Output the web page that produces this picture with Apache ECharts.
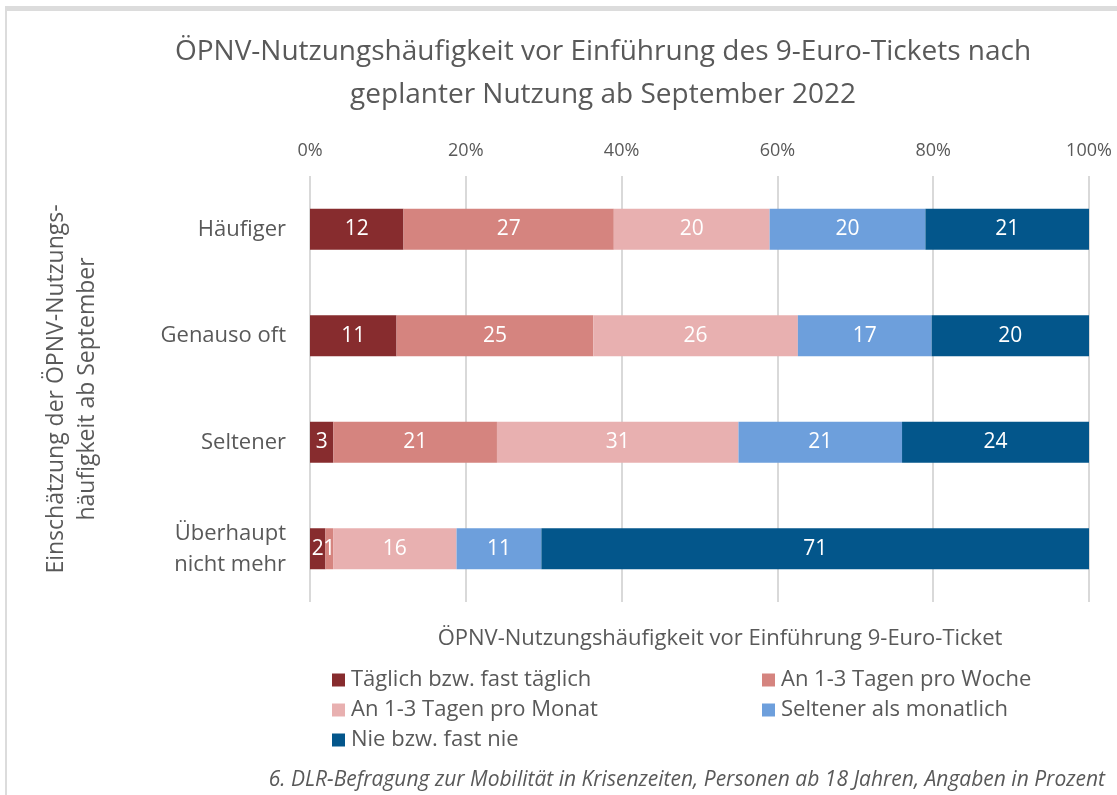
<!DOCTYPE html>
<html>
<head>
<meta charset="utf-8">
<script src="https://cdn.jsdelivr.net/npm/echarts@6/dist/echarts.min.js"></script>
<style>
html, body { margin: 0; padding: 0; background: #fff; }
#chart { width: 1117px; height: 795px; }
</style>
</head>
<body>
<div id="chart"></div>
<script>
var categories = ['Häufiger', 'Genauso oft', 'Seltener', 'Überhaupt\nnicht mehr'];
var seriesNames = ['Täglich bzw. fast täglich', 'An 1-3 Tagen pro Woche', 'An 1-3 Tagen pro Monat', 'Seltener als monatlich', 'Nie bzw. fast nie'];
var taeglich = [12, 11, 3, 2];
var woche = [27, 25, 21, 1];
var monat = [20, 26, 31, 16];
var seltener = [20, 17, 21, 11];
var nie = [21, 20, 24, 71];
var colors = ['#872c2e', '#d5847f', '#e8b0b0', '#6d9fdc', '#03568b'];
var xTicks = ['0%', '20%', '40%', '60%', '80%', '100%'];

var allRows = [taeglich, woche, monat, seltener, nie];
// Zeilensummen fuer 100%-Stapel
var rowSum = categories.map(function (c, i) {
    var s = 0;
    allRows.forEach(function (r) { s += r[i]; });
    return s;
});

var font = '"Open Sans", Lato, sans-serif';
var grey = '#595959';

var myChart = echarts.init(document.getElementById('chart'));

var series = allRows.map(function (row, k) {
    return {
        name: seriesNames[k],
        type: 'bar',
        stack: 'total',
        barWidth: 41,
        itemStyle: { color: colors[k] },
        label: {
            show: true,
            color: '#fff',
            fontSize: 21,
            fontFamily: font,
            formatter: function (p) { return p.data.raw; }
        },
        data: row.map(function (v, i) {
            return { value: v / rowSum[i] * 100, raw: v };
        })
    };
});

option = {
    backgroundColor: '#fff',
    animation: false,
    title: [{
        text: 'ÖPNV-Nutzungshäufigkeit vor Einführung des 9-Euro-Tickets nach\ngeplanter Nutzung ab September 2022',
        left: 598,
        top: 26,
        textAlign: 'center',
        textStyle: { fontFamily: font, fontSize: 28, fontWeight: 'normal', color: grey, lineHeight: 43 }
    }, {
        text: 'ÖPNV-Nutzungshäufigkeit vor Einführung 9-Euro-Ticket',
        left: 715,
        top: 623,
        textAlign: 'center',
        textStyle: { fontFamily: font, fontSize: 22, fontWeight: 'normal', color: grey }
    }, {
        text: '6. DLR-Befragung zur Mobilität in Krisenzeiten, Personen ab 18 Jahren, Angaben in Prozent',
        right: 7,
        top: 765,
        textStyle: { fontFamily: font, fontSize: 21, fontStyle: 'italic', fontWeight: 'normal', color: grey }
    }],
    legend: [{
        left: 327,
        top: 664,
        orient: 'vertical',
        itemWidth: 13,
        itemHeight: 13,
        itemGap: 8,
        icon: 'rect',
        textStyle: { fontFamily: font, fontSize: 22, color: grey, padding: [0, 0, 0, 1] },
        data: [seriesNames[0], seriesNames[2], seriesNames[4]]
    }, {
        left: 757,
        top: 664,
        orient: 'vertical',
        itemWidth: 13,
        itemHeight: 13,
        itemGap: 8,
        icon: 'rect',
        textStyle: { fontFamily: font, fontSize: 22, color: grey, padding: [0, 0, 0, 1] },
        data: [seriesNames[1], seriesNames[3]]
    }],
    grid: {
        left: 310,
        right: 28,
        top: 176,
        bottom: 193
    },
    xAxis: {
        type: 'value',
        position: 'top',
        min: 0,
        max: 100,
        interval: 20,
        axisLine: { show: false },
        axisTick: { show: false },
        axisLabel: {
            margin: 16,
            fontFamily: font,
            fontSize: 18,
            color: grey,
            formatter: function (v) { return xTicks[v / 20]; }
        },
        splitLine: { lineStyle: { color: '#d9d9d9', width: 2 } }
    },
    yAxis: {
        type: 'category',
        inverse: true,
        data: categories,
        name: 'Einschätzung der ÖPNV-Nutzungs-\nhäufigkeit ab September',
        nameLocation: 'middle',
        nameGap: 207,
        nameTextStyle: { fontFamily: font, fontSize: 23, color: grey, lineHeight: 31 },
        axisLine: { show: false },
        axisTick: { show: false },
        axisLabel: {
            margin: 24,
            fontFamily: font,
            fontSize: 22,
            color: grey,
            lineHeight: 31,
            align: 'right'
        }
    },
    graphic: [{
        type: 'rect',
        shape: { x: 5, y: 6, width: 1112, height: 5 },
        style: { fill: '#dcdcdc' }
    }, {
        type: 'rect',
        shape: { x: 5, y: 6, width: 2, height: 789 },
        style: { fill: '#dcdcdc' }
    }],
    series: series
};
myChart.setOption(option);
</script>
</body>
</html>
